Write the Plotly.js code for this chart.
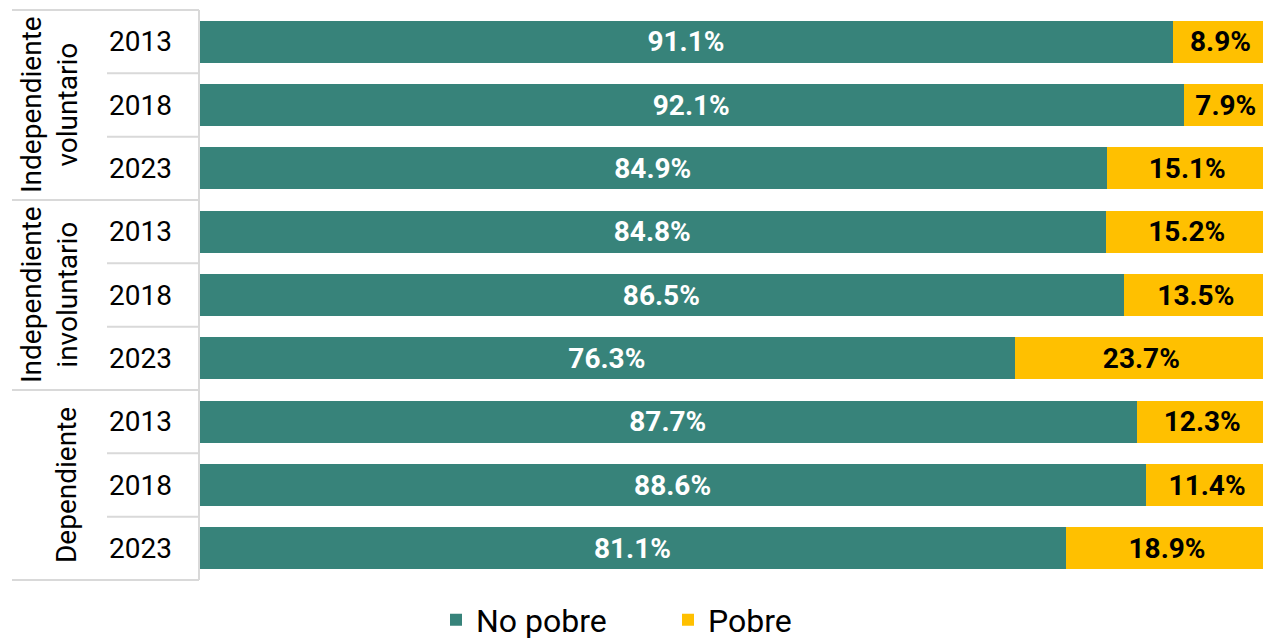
<!DOCTYPE html>
<html>
<head>
<meta charset="utf-8">
<script src="https://cdn.plot.ly/plotly-3.0.1.min.js"></script>
<style>html,body{margin:0;padding:0;background:#fff;}#chart{width:1263px;height:639px;}</style>
</head>
<body>
<div id="chart"></div>
<script>
// ---- data ----
const groups = ["Independiente<br>voluntario", "Independiente<br>involuntario", "Dependiente"];
const years = ["2013", "2018", "2023"];
const noPobre = [91.1, 92.1, 84.9, 84.8, 86.5, 76.3, 87.7, 88.6, 81.1];
const pobre   = [8.9, 7.9, 15.1, 15.2, 13.5, 23.7, 12.3, 11.4, 18.9];
const seriesNames = ["No pobre", "Pobre"];

// row keys (group|year)
const rows = [];
groups.forEach(g => years.forEach(y => rows.push(g.replace("<br>", " ") + " " + y)));

const FONT = "Roboto, 'Noto Sans', sans-serif";
const teal = "#37837A";
const gold = "#FFC000";
const grid = "#D9D9D9";
const FS = 28;

const traces = [
  {
    type: "bar", orientation: "h", name: seriesNames[0],
    x: noPobre, y: rows, marker: {color: teal},
    texttemplate: "%{x:.1f}%", textposition: "inside", insidetextanchor: "middle",
    textangle: 0, constraintext: "none",
    textfont: {family: FONT, size: FS, color: "#FFFFFF", weight: "bold"},
    hoverinfo: "x+y"
  },
  {
    type: "bar", orientation: "h", name: seriesNames[1],
    x: pobre, y: rows, marker: {color: gold},
    texttemplate: "%{x:.1f}%", textposition: "inside", insidetextanchor: "middle",
    textangle: 0, constraintext: "none",
    textfont: {family: FONT, size: FS, color: "#000000", weight: "bold"},
    hoverinfo: "x+y"
  }
];

const L = 199, PW = 1064;
const px = v => (v - L) / PW;

const annotations = [];
const shapes = [];
// year labels
rows.forEach((r, i) => {
  annotations.push({
    xref: "paper", yref: "y", x: px(140), y: r, text: years[i % years.length],
    showarrow: false, xanchor: "center", yanchor: "middle",
    font: {family: FONT, size: FS, color: "#000000"}
  });
});
// group labels
groups.forEach((g, gi) => {
  const two = g.indexOf("<br>") >= 0;
  annotations.push({
    xref: "paper", yref: "y", x: px(two ? 49 : 66), y: rows[gi * 3 + 1], text: g,
    showarrow: false, textangle: -90, xanchor: "center", yanchor: "middle",
    font: {family: FONT, size: FS, color: "#000000"}
  });
});
// separators
const lineStyle = {color: grid, width: 2};
shapes.push({type: "line", xref: "paper", yref: "paper", x0: px(12), x1: 0, y0: 1, y1: 1, line: lineStyle});
shapes.push({type: "line", xref: "paper", yref: "paper", x0: px(12), x1: 0, y0: 0, y1: 0, line: lineStyle});
shapes.push({type: "line", xref: "paper", yref: "paper", x0: 0, x1: 0, y0: 0, y1: 1, line: lineStyle});
for (let gi = 0; gi < groups.length; gi++) {
  for (let k = 1; k < years.length; k++) {
    const b = gi * 3 + k - 0.5;
    shapes.push({type: "line", xref: "paper", yref: "y", x0: px(107), x1: 0, y0: b, y1: b, line: lineStyle});
  }
  if (gi > 0) {
    const b = gi * 3 - 0.5;
    shapes.push({type: "line", xref: "paper", yref: "y", x0: px(12), x1: 0, y0: b, y1: b, line: lineStyle});
  }
}

const layout = {
  width: 1263, height: 639,
  margin: {l: L, r: 0, t: 10, b: 59},
  paper_bgcolor: "#FFFFFF", plot_bgcolor: "#FFFFFF",
  barmode: "stack", bargap: 0.34,
  font: {family: FONT, size: FS, color: "#000000"},
  xaxis: {range: [0, 99.53], showgrid: false, zeroline: false, showticklabels: false, showline: false, fixedrange: true},
  yaxis: {type: "category", categoryorder: "array", categoryarray: rows, range: [8.5, -0.5],
          showticklabels: false, showgrid: false, zeroline: false, showline: false, ticks: "", fixedrange: true},
  showlegend: true,
  legend: {orientation: "h", xref: "container", x: 436 / 1263, xanchor: "left",
           yref: "container", y: 1 - 620 / 639, yanchor: "middle",
           font: {family: FONT, size: 32, color: "#000000"}, entrywidth: 187, entrywidthmode: "pixels",
           traceorder: "normal", bgcolor: "rgba(0,0,0,0)"},
  annotations: annotations,
  shapes: shapes
};

Plotly.newPlot("chart", traces, layout, {displayModeBar: false, staticPlot: true});
</script>
</body>
</html>
